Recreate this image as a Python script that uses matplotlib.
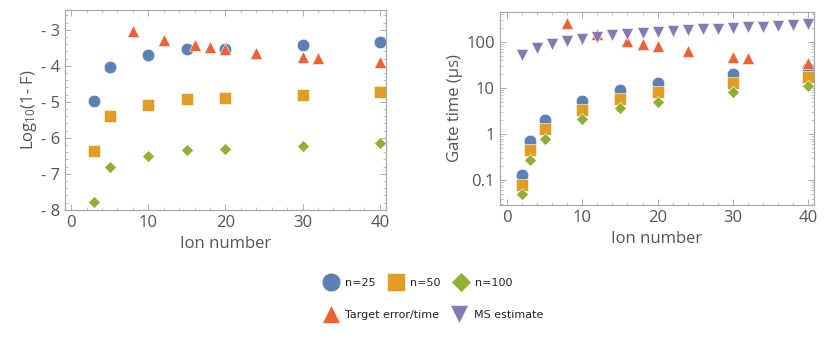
import numpy as np
import matplotlib
matplotlib.use("Agg")
import matplotlib.pyplot as plt
from matplotlib.ticker import MultipleLocator, FixedLocator, LogLocator, NullFormatter, FuncFormatter

plt.rcParams['font.family'] = ['Open Sans', 'DejaVu Sans']
plt.rcParams['mathtext.default'] = 'regular'

# Mathematica default colours
c_blue = '#5E81B5'
c_orange = '#E19C24'
c_green = '#8FB032'
c_red = '#EB6235'
c_purple = '#8778B3'
grey = '#555555'
frame_grey = '#aaaaaa'

# ---- left panel: log10(1-F) vs ion number ----
ions_fid = [3, 5, 10, 15, 20, 30, 40]
logerr_n25 = [-4.97, -4.02, -3.70, -3.53, -3.52, -3.42, -3.34]
logerr_n50 = [-6.37, -5.40, -5.10, -4.93, -4.90, -4.80, -4.72]
logerr_n100 = [-7.78, -6.82, -6.50, -6.34, -6.31, -6.22, -6.13]
ions_target = [8, 12, 16, 18, 20, 24, 30, 32, 40]
logerr_target = [-3.02, -3.27, -3.42, -3.47, -3.53, -3.63, -3.75, -3.78, -3.90]

# ---- right panel: gate time vs ion number ----
ions_time = [2, 3, 5, 10, 15, 20, 30, 40]
time_n25 = [0.13, 0.70, 2.0, 5.3, 9.2, 12.5, 20, 27]
time_n50 = [0.08, 0.45, 1.3, 3.4, 5.8, 8.0, 12.5, 17]
time_n100 = [0.05, 0.27, 0.8, 2.1, 3.6, 5.0, 8.0, 11]
time_target = [260, 150, 105, 90, 80, 62, 48, 44, 34]
ions_ms = [2, 4, 6, 8, 10, 12, 14, 16, 18, 20, 22, 24, 26, 28, 30, 32, 34, 36, 38, 40]
time_ms = [51, 72, 89, 105, 114, 128, 140, 147, 157, 165, 171, 177, 186, 192, 198, 205, 212, 223, 234, 246]

fig = plt.figure(figsize=(8.3, 3.48), dpi=100)
ax1 = fig.add_axes([0.0783, 0.397, 0.3867, 0.574])
ax2 = fig.add_axes([0.602, 0.411, 0.379, 0.555])

ms = dict(linestyle='none', markeredgecolor='white', markeredgewidth=0.4)


def style(ax):
    for s in ax.spines.values():
        s.set_color(frame_grey)
        s.set_linewidth(0.9)
    ax.tick_params(which='both', direction='in', top=True, right=True,
                   color=frame_grey, labelcolor=grey, labelsize=12)
    ax.tick_params(which='major', length=4, width=0.7)
    ax.tick_params(which='minor', length=2, width=0.5)
    ax.xaxis.set_major_locator(MultipleLocator(10))
    ax.xaxis.set_minor_locator(MultipleLocator(2))
    ax.set_xlabel('Ion number', color=grey, fontsize=12)


# left
h1, = ax1.plot(ions_fid, logerr_n25, 'o', color=c_blue, markersize=9, **ms)
h2, = ax1.plot(ions_fid, logerr_n50, 's', color=c_orange, markersize=9, **ms)
h3, = ax1.plot(ions_fid, logerr_n100, 'D', color=c_green, markersize=6.5, **ms)
h4, = ax1.plot(ions_target, logerr_target, '^', color=c_red, markersize=9, **ms)
ax1.set_xlim(-0.8, 40.8)
ax1.set_ylim(-8.0, -2.45)
style(ax1)
ax1.yaxis.set_major_locator(FixedLocator([-8, -7, -6, -5, -4, -3]))
ax1.yaxis.set_minor_locator(MultipleLocator(0.2))
ax1.yaxis.set_major_formatter(FuncFormatter(lambda v, p: '- %d' % abs(round(v))))
ax1.set_ylabel('Log$_{10}$(1- F)', color=grey, fontsize=12, labelpad=1)

# right
ax2.set_yscale('log')
ax2.plot(ions_time, time_n25, 'o', color=c_blue, markersize=9, **ms)
ax2.plot(ions_time, time_n50, 's', color=c_orange, markersize=9, **ms)
ax2.plot(ions_time, time_n100, 'D', color=c_green, markersize=6.5, **ms)
ax2.plot(ions_target, time_target, '^', color=c_red, markersize=9, **ms)
h5, = ax2.plot(ions_ms, time_ms, 'v', color=c_purple, markersize=9, **ms)
ax2.set_xlim(-0.97, 40.8)
ax2.set_ylim(0.029, 447)
style(ax2)
ax2.yaxis.set_major_locator(FixedLocator([0.1, 1, 10, 100]))
ax2.yaxis.set_minor_locator(LogLocator(base=10, subs=np.arange(2, 10)))
ax2.yaxis.set_minor_formatter(NullFormatter())
ax2.yaxis.set_major_formatter(FuncFormatter(lambda v, p: '%g' % v))
ax2.set_ylabel('Gate time (μs)', color=grey, fontsize=12, labelpad=2)

# legends below the panels
leg_kw = dict(frameon=False, handletextpad=0.5, columnspacing=1.0,
              handlelength=1.6, markerscale=1.5, labelcolor='#222222',
              prop={'family': 'DejaVu Sans', 'size': 8})
leg1 = fig.legend([h1, h2, h3], ['n=25', 'n=50', 'n=100'], ncol=3,
                  loc='center left', bbox_to_anchor=(312 / 830, 1 - 283 / 348), **leg_kw)
leg2 = fig.legend([h4, h5], ['Target error/time', 'MS estimate'], ncol=2,
                  loc='center left', bbox_to_anchor=(312 / 830, 1 - 315 / 348), **leg_kw)

fig.savefig('out.png', dpi=100)
